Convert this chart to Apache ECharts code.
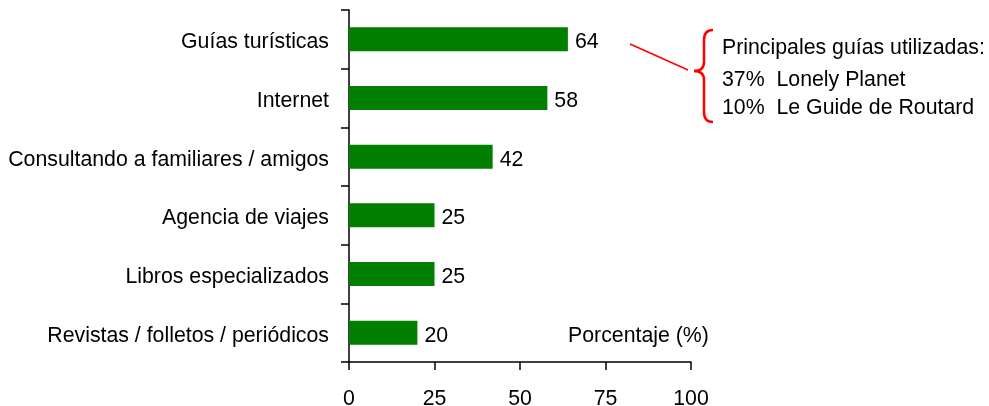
<!DOCTYPE html>
<html>
<head>
<meta charset="utf-8">
<script src="https://cdn.jsdelivr.net/npm/echarts@6/dist/echarts.min.js"></script>
<style>
html,body{margin:0;padding:0;background:#fff;}
#chart{width:989px;height:406px;}
</style>
</head>
<body>
<div id="chart"></div>
<script>
var categories = ['Guías turísticas', 'Internet', 'Consultando a familiares / amigos', 'Agencia de viajes', 'Libros especializados', 'Revistas / folletos / periódicos'];
var values = [64, 58, 42, 25, 25, 20];
var xTicks = [0, 25, 50, 75, 100];
var noteLines = ['Principales guías utilizadas:', '37%  Lonely Planet', '10%  Le Guide de Routard'];
var axisTitle = 'Porcentaje (%)';

var FONT = 'Liberation Sans, Arial, sans-serif';
var FS = 21.3;
var RED = '#ff0000';
var chart = echarts.init(document.getElementById('chart'), null, {renderer: 'canvas'});
function curve(x1, y1, cx, cy, x2, y2) {
  return {type: 'bezierCurve', shape: {x1: x1, y1: y1, cpx1: cx, cpy1: cy, x2: x2, y2: y2}, style: {stroke: RED, lineWidth: 2.5, fill: null}};
}
function seg(x1, y1, x2, y2, w) {
  return {type: 'line', shape: {x1: x1, y1: y1, x2: x2, y2: y2}, style: {stroke: RED, lineWidth: w}};
}
function txt(x, y, s) {
  return {type: 'text', x: x, y: y, style: {text: s, fill: '#000', font: FS + 'px ' + FONT, textAlign: 'left', textVerticalAlign: 'middle'}};
}
chart.setOption({
  animation: false,
  backgroundColor: '#ffffff',
  grid: {left: 349, right: 298, top: 10, bottom: 44, containLabel: false, outerBoundsMode: 'none'},
  xAxis: {
    type: 'value', min: xTicks[0], max: xTicks[xTicks.length - 1], interval: 25,
    axisLine: {show: true, lineStyle: {color: '#000', width: 1.5}},
    axisTick: {show: true, length: 8, lineStyle: {color: '#000', width: 1.5}},
    axisLabel: {color: '#000', fontSize: FS, fontFamily: FONT, margin: 27},
    splitLine: {show: false}
  },
  yAxis: {
    type: 'category', data: categories, inverse: true,
    axisLine: {show: true, lineStyle: {color: '#000', width: 1.5}},
    axisTick: {show: true, length: 8, lineStyle: {color: '#000', width: 1.5}},
    axisLabel: {color: '#000', fontSize: FS, fontFamily: FONT, margin: 20, verticalAlign: 'top', lineHeight: 6}
  },
  series: [{
    type: 'bar', data: values, barWidth: 24,
    itemStyle: {color: '#007f00'},
    label: {show: true, position: 'right', distance: 7, offset: [0, 3], color: '#000', fontSize: FS, fontFamily: FONT}
  }],
  graphic: [
    txt(568, 336, axisTitle),
    seg(630, 44, 688, 70, 1.5),
    curve(713, 30, 704, 30, 704, 40),
    seg(704, 40, 704, 62, 2.5),
    curve(704, 62, 704, 71, 694, 71),
    curve(694, 71, 704, 71, 704, 80),
    seg(704, 80, 704, 112, 2.5),
    curve(704, 112, 704, 122, 713, 122),
    txt(722, 48, noteLines[0]),
    txt(722, 80, noteLines[1]),
    txt(722, 108, noteLines[2])
  ]
});
</script>
</body>
</html>
